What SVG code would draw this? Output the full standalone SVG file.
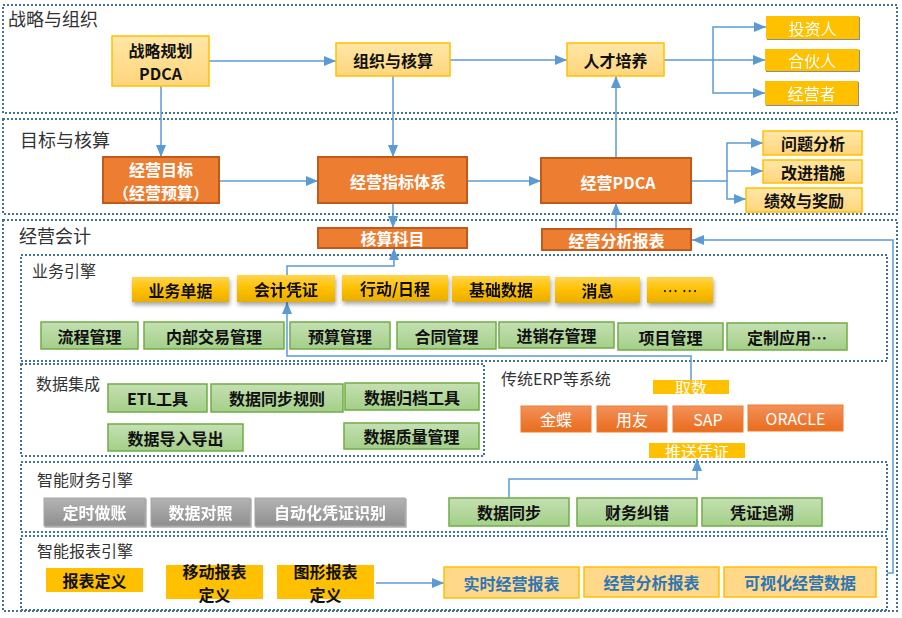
<svg xmlns="http://www.w3.org/2000/svg" width="902" height="618" viewBox="0 0 902 618">
<defs>
<linearGradient id="gLight" x1="0" y1="0" x2="0" y2="1"><stop offset="0" stop-color="#FFE7A6"/><stop offset="1" stop-color="#FFD57C"/></linearGradient>
<linearGradient id="gTab" x1="0" y1="0" x2="0" y2="1"><stop offset="0" stop-color="#FFD54F"/><stop offset="0.5" stop-color="#FFC000"/><stop offset="1" stop-color="#E8AE00"/></linearGradient>
<linearGradient id="gGreen" x1="0" y1="0" x2="0" y2="1"><stop offset="0" stop-color="#C5E0B3"/><stop offset="1" stop-color="#A3CF88"/></linearGradient>
<linearGradient id="gGray" x1="0" y1="0" x2="0" y2="1"><stop offset="0" stop-color="#B4B4B4"/><stop offset="1" stop-color="#8E8E8E"/></linearGradient>
<linearGradient id="gErp" x1="0" y1="0" x2="0" y2="1"><stop offset="0" stop-color="#F3915A"/><stop offset="1" stop-color="#E96C1C"/></linearGradient>
<filter id="shadow" x="-10%" y="-20%" width="125%" height="160%"><feDropShadow dx="1" dy="3" stdDeviation="2" flood-color="#000" flood-opacity="0.35"/></filter>
<filter id="tshadow" x="-10%" y="-20%" width="130%" height="150%"><feDropShadow dx="1" dy="1" stdDeviation="0.6" flood-color="#000" flood-opacity="0.45"/></filter>
<marker id="arr" markerUnits="userSpaceOnUse" markerWidth="12" markerHeight="10" refX="12" refY="5" orient="auto"><path d="M0,0 L12,5 L0,10 z" fill="#5B9BD5"/></marker>
</defs>
<style>
.sec{fill:none;stroke:#41719C;stroke-width:2;stroke-dasharray:2 2}
.title{font-family:"Noto Sans CJK SC","Liberation Sans",sans-serif;fill:#333;font-size:18px}
.sub{font-family:"Noto Sans CJK SC","Liberation Sans",sans-serif;fill:#333;font-size:16px}
.t{font-family:"Noto Sans CJK SC","Liberation Sans",sans-serif;font-size:16px;font-weight:bold;text-anchor:middle;dominant-baseline:central}
.dark{fill:#111}
.white{fill:#fff}
.blue{fill:#2E75B6}
.light{fill:url(#gLight);stroke:#FFC000;stroke-width:1.5}
.org{fill:#ED7D31;stroke:#C05A1A;stroke-width:2}
.gold{fill:#FFC000}
.tab{fill:url(#gTab)}
.green{fill:url(#gGreen);stroke:#70AD47;stroke-width:1.5}
.gray{fill:url(#gGray);stroke:#A6A6A6;stroke-width:1}
.erp{fill:url(#gErp);stroke:#ED7D31;stroke-width:1}
.rep{fill:#FFD88A;stroke:#FFC000;stroke-width:1.5}
.c{fill:none;stroke:#5B9BD5;stroke-width:1.5}
.n{font-weight:normal}
</style>

<!-- sections -->
<g id="sections">
<rect class="sec" x="3" y="5" width="894" height="108"/>
<rect class="sec" x="3" y="119" width="894" height="95"/>
<rect class="sec" x="3" y="220" width="894" height="391"/>
<rect class="sec" x="21" y="255" width="866" height="106"/>
<rect class="sec" x="21" y="364" width="463" height="92"/>
<rect class="sec" x="21" y="462" width="866" height="70"/>
<rect class="sec" x="21" y="536" width="866" height="74"/>
<text class="title" x="8" y="26">战略与组织</text>
<text class="title" x="20" y="147">目标与核算</text>
<text class="title" x="19" y="243">经营会计</text>
<text class="sub" x="32" y="277">业务引擎</text>
<text class="sub" x="36" y="390">数据集成</text>
<text class="sub" x="501" y="385">传统ERP等系统</text>
<text class="sub" x="37" y="486">智能财务引擎</text>
<text class="sub" x="37" y="557">智能报表引擎</text>
</g>

<!-- connectors -->
<g id="connectors">
<path class="c" d="M209,61 L336,61" marker-end="url(#arr)"/>
<path class="c" d="M450,60 L567,60" marker-end="url(#arr)"/>
<path class="c" d="M664,60 L713,60 L713,27 L766,27" marker-end="url(#arr)"/>
<path class="c" d="M713,60 L765,60" marker-end="url(#arr)"/>
<path class="c" d="M713,60 L713,93 L765,93" marker-end="url(#arr)"/>
<path class="c" d="M161,86 L161,157" marker-end="url(#arr)"/>
<path class="c" d="M393,76 L393,157" marker-end="url(#arr)"/>
<path class="c" d="M616,157 L616,76" marker-end="url(#arr)"/>
<path class="c" d="M219,181 L318,181" marker-end="url(#arr)"/>
<path class="c" d="M467,181 L541,181" marker-end="url(#arr)"/>
<path class="c" d="M691,181 L727,181 L727,143 L763,143" marker-end="url(#arr)"/>
<path class="c" d="M727,171 L763,171" marker-end="url(#arr)"/>
<path class="c" d="M727,181 L727,199 L746,199" marker-end="url(#arr)"/>
<path class="c" d="M393,203 L393,228" marker-end="url(#arr)"/>
<path class="c" d="M616,229 L616,203" marker-end="url(#arr)"/>
<path class="c" d="M287,276 L287,266 L394,266 L394,248" marker-end="url(#arr)"/>
<path class="c" d="M691,380 L691,356 L287,356 L287,302" marker-end="url(#arr)"/>
<path class="c" d="M887,573 L893,573 L893,240 L692,240" marker-end="url(#arr)"/>
<path class="c" d="M509,498 L509,479 L697,479 L697,459" marker-end="url(#arr)"/>
<path class="c" d="M376,583 L444,583" marker-end="url(#arr)"/>
</g>

<!-- row 1 -->
<g id="n-zlgh"><rect class="light" x="112" y="36" width="97" height="50"/><text class="t dark" x="160.5" y="50">战略规划</text><text class="t dark" x="160.5" y="73">PDCA</text></g>
<g id="n-zzhs"><rect class="light" x="336" y="43" width="114" height="33"/><text class="t dark" x="393" y="59.5">组织与核算</text></g>
<g id="n-rcpy"><rect class="light" x="567" y="43" width="97" height="33"/><text class="t dark" x="615.5" y="59.5">人才培养</text></g>
<g id="n-tzr" filter="url(#tshadow)"><rect class="gold" x="766" y="16" width="93" height="23"/><text class="t white n" x="812.5" y="27.5">投资人</text></g>
<g id="n-hhr" filter="url(#tshadow)"><rect class="gold" x="765" y="49" width="94" height="22"/><text class="t white n" x="812" y="60">合伙人</text></g>
<g id="n-jyz" filter="url(#tshadow)"><rect class="gold" x="765" y="81" width="93" height="24"/><text class="t white n" x="811.5" y="93">经营者</text></g>

<!-- row 2 -->
<g id="n-jymb"><rect class="org" x="103" y="157" width="116" height="46"/><text class="t white" x="161" y="169">经营目标</text><text class="t white" x="161" y="192">（经营预算）</text></g>
<g id="n-jyzb"><rect class="org" x="318" y="157" width="149" height="46"/><text class="t white" x="398" y="181">经营指标体系</text></g>
<g id="n-jypdca"><rect class="org" x="541" y="158" width="150" height="45"/><text class="t white" x="618" y="182">经营PDCA</text></g>
<g id="n-wtfx"><rect class="light" x="763" y="131" width="99" height="24"/><text class="t dark" x="813" y="143">问题分析</text></g>
<g id="n-gjcs"><rect class="light" x="763" y="160" width="99" height="23"/><text class="t dark" x="813" y="171.5">改进措施</text></g>
<g id="n-jxjl"><rect class="light" x="746" y="188" width="116" height="24"/><text class="t dark" x="804" y="200">绩效与奖励</text></g>

<!-- 经营会计 top -->
<g id="n-hskm"><rect class="org" x="318" y="228" width="149" height="20"/><text class="t white" x="392.5" y="238">核算科目</text></g>
<g id="n-jyfxbb"><rect class="org" x="542" y="229" width="149" height="21"/><text class="t white" x="616.5" y="239.5">经营分析报表</text></g>

<!-- 业务引擎 tabs -->
<g id="n-ywdj" filter="url(#shadow)"><rect class="tab" x="132" y="277" width="97" height="25"/><text class="t dark" x="180.5" y="289.5">业务单据</text></g>
<g id="n-kjpz" filter="url(#shadow)"><rect class="tab" x="237" y="275" width="98" height="27"/><text class="t dark" x="286" y="288.5">会计凭证</text></g>
<g id="n-xdrc" filter="url(#shadow)"><rect class="tab" x="342" y="275" width="106" height="26"/><text class="t dark" x="395" y="288">行动/日程</text></g>
<g id="n-jcsj" filter="url(#shadow)"><rect class="tab" x="452" y="276" width="98" height="26"/><text class="t dark" x="501" y="289">基础数据</text></g>
<g id="n-xx" filter="url(#shadow)"><rect class="tab" x="555" y="277" width="85" height="26"/><text class="t dark" x="597.5" y="290">消息</text></g>
<g id="n-more" filter="url(#shadow)"><rect class="tab" x="647" y="277" width="66" height="26"/><text class="t dark n" x="680" y="290">… …</text></g>

<!-- 业务引擎 green -->
<g id="n-lcgl"><rect class="green" x="41" y="322" width="97" height="27"/><text class="t dark" x="89.5" y="335.5">流程管理</text></g>
<g id="n-nbjy"><rect class="green" x="144" y="322" width="140" height="27"/><text class="t dark" x="214" y="335.5">内部交易管理</text></g>
<g id="n-ysgl"><rect class="green" x="290" y="322" width="100" height="27"/><text class="t dark" x="340" y="335.5">预算管理</text></g>
<g id="n-htgl"><rect class="green" x="397" y="322" width="99" height="27"/><text class="t dark" x="446.5" y="335.5">合同管理</text></g>
<g id="n-jxc"><rect class="green" x="499" y="322" width="115" height="26"/><text class="t dark" x="556.5" y="335">进销存管理</text></g>
<g id="n-xmgl"><rect class="green" x="618" y="323" width="105" height="27"/><text class="t dark" x="670.5" y="336.5">项目管理</text></g>
<g id="n-dzyy"><rect class="green" x="727" y="323" width="120" height="27"/><text class="t dark" x="787" y="336.5">定制应用…</text></g>

<!-- 数据集成 -->
<g id="n-etl"><rect class="green" x="108" y="384" width="99" height="28"/><text class="t dark" x="157.5" y="398">ETL工具</text></g>
<g id="n-sjtb"><rect class="green" x="211" y="384" width="132" height="28"/><text class="t dark" x="277" y="398">数据同步规则</text></g>
<g id="n-sjgd"><rect class="green" x="345" y="383" width="134" height="27"/><text class="t dark" x="412" y="396.5">数据归档工具</text></g>
<g id="n-sjdr"><rect class="green" x="108" y="424" width="135" height="27"/><text class="t dark" x="175.5" y="437.5">数据导入导出</text></g>
<g id="n-sjzl"><rect class="green" x="344" y="423" width="135" height="26"/><text class="t dark" x="411.5" y="436">数据质量管理</text></g>

<!-- ERP -->
<g id="n-qs"><rect class="gold" x="653" y="380" width="76" height="14"/><text class="t white n" x="691" y="387" font-size="17">取数</text></g>
<g id="n-jd"><rect class="erp" x="521" y="406" width="70" height="26"/><text class="t white n" x="556" y="419">金蝶</text></g>
<g id="n-yy"><rect class="erp" x="597" y="406" width="70" height="26"/><text class="t white n" x="632" y="419">用友</text></g>
<g id="n-sap"><rect class="erp" x="673" y="406" width="70" height="26"/><text class="t white n" x="708" y="419">SAP</text></g>
<g id="n-oracle"><rect class="erp" x="748" y="405" width="95" height="26"/><text class="t white n" x="795.5" y="418">ORACLE</text></g>
<g id="n-tspz"><rect class="gold" x="649" y="443" width="96" height="15"/><text class="t white n" x="697" y="451" font-size="17">推送凭证</text></g>

<!-- 智能财务引擎 -->
<g id="n-dszz" filter="url(#tshadow)"><rect class="gray" x="44" y="498" width="101" height="28"/><text class="t white" x="94.5" y="512">定时做账</text></g>
<g id="n-sjdz" filter="url(#tshadow)"><rect class="gray" x="151" y="498" width="99" height="28"/><text class="t white" x="200.5" y="512">数据对照</text></g>
<g id="n-zdh" filter="url(#tshadow)"><rect class="gray" x="255" y="498" width="150" height="28"/><text class="t white" x="330" y="512">自动化凭证识别</text></g>
<g id="n-sjtb2"><rect class="green" x="449" y="498" width="120" height="28"/><text class="t dark" x="509" y="512">数据同步</text></g>
<g id="n-cwjc"><rect class="green" x="577" y="498" width="120" height="28"/><text class="t dark" x="637" y="512">财务纠错</text></g>
<g id="n-pzzs"><rect class="green" x="702" y="498" width="120" height="28"/><text class="t dark" x="762" y="512">凭证追溯</text></g>

<!-- 智能报表引擎 -->
<g id="n-bbdy"><rect class="gold" x="46" y="568" width="97" height="24"/><text class="t dark" x="94.5" y="580">报表定义</text></g>
<g id="n-ydbb"><rect class="gold" x="166" y="565" width="97" height="34"/><text class="t dark" x="214.5" y="571">移动报表</text><text class="t dark" x="214.5" y="594">定义</text></g>
<g id="n-txbb"><rect class="gold" x="277" y="565" width="97" height="34"/><text class="t dark" x="325.5" y="571">图形报表</text><text class="t dark" x="325.5" y="594">定义</text></g>
<g id="n-ssjy"><rect class="rep" x="444" y="567" width="135" height="31"/><text class="t blue" x="511.5" y="582.5">实时经营报表</text></g>
<g id="n-jyfx2"><rect class="rep" x="584" y="567" width="135" height="30"/><text class="t blue" x="651.5" y="582">经营分析报表</text></g>
<g id="n-kshsj"><rect class="rep" x="724" y="567" width="152" height="30"/><text class="t blue" x="800" y="582">可视化经营数据</text></g>
</svg>
